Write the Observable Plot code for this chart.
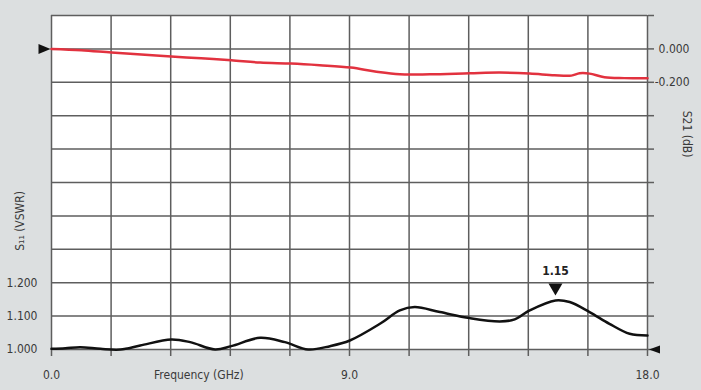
<!DOCTYPE html>
<html>
<head>
<meta charset="utf-8">
<script src="https://cdn.jsdelivr.net/npm/d3@7"></script>
<script src="https://cdn.jsdelivr.net/npm/@observablehq/plot@0.6"></script>
<style>
  html, body { margin: 0; padding: 0; background: #dcdfe0; }
</style>
</head>
<body>
<div id="chart"></div>
<script>
// S11 (VSWR) black curve
const s11Freq = [0, 0.42, 0.87, 1.48, 2.08, 2.68, 3.62, 4.19, 4.94, 5.43, 6.3, 7.05, 7.75, 8.41, 9.01, 9.92, 10.52, 10.97, 11.73, 12.63, 13.54, 13.99, 14.44, 15.22, 15.65, 16.25, 16.85, 17.46, 18];
const s11Vswr = [1.002, 1.004, 1.007, 1.002, 1.000, 1.012, 1.030, 1.022, 1.000, 1.010, 1.035, 1.022, 1.000, 1.010, 1.027, 1.077, 1.117, 1.127, 1.112, 1.094, 1.084, 1.090, 1.117, 1.147, 1.142, 1.112, 1.077, 1.047, 1.042];

// S21 (dB) red curve
const s21Freq = [0, 0.9, 1.81, 2.71, 3.62, 4.52, 5.43, 6.3, 7.24, 8.1, 9.04, 9.77, 10.52, 11.43, 12.63, 13.54, 14.44, 15.19, 15.7, 15.95, 16.25, 16.7, 17.3, 18];
const s21Db = [0.000, -0.008, -0.022, -0.034, -0.046, -0.056, -0.068, -0.082, -0.088, -0.098, -0.112, -0.135, -0.152, -0.152, -0.146, -0.142, -0.148, -0.158, -0.160, -0.146, -0.148, -0.170, -0.175, -0.176];

// Grid / tick values
const xGrid = [0, 1.8, 3.6, 5.4, 7.2, 9, 10.8, 12.6, 14.4, 16.2, 18];
const yGrid = [1.0, 1.1, 1.2, 1.3, 1.4, 1.5, 1.6, 1.7, 1.8, 1.9, 2.0];
const xLabelValues = [0, 9, 18];
const xLabelTexts = ["0.0", "9.0", "18.0"];
const yLeftLabelValues = [1.0, 1.1, 1.2];
const yLeftLabelTexts = ["1.000", "1.100", "1.200"];
const yRightLabelValues = [0, -0.2];
const yRightLabelTexts = ["0.000", "-0.200"];

// Annotation
const peakFreq = [15.22];
const peakValue = [1.147];
const peakText = ["1.15"];

// Right axis (dB) mapped onto the left (VSWR) scale
const s21Zero = 1.9;     // VSWR-scale position of 0 dB
const s21Factor = 0.5;   // VSWR units per dB
const toLeft = (db) => s21Zero + s21Factor * db;

const s11Data = s11Freq.map((f, i) => ({f, v: s11Vswr[i]}));
const s21Data = s21Freq.map((f, i) => ({f, v: toLeft(s21Db[i])}));
const peakData = peakFreq.map((f, i) => ({f, v: peakValue[i], t: peakText[i]}));

const gridColor = "#5e5e5e";
const font = "'Liberation Sans Narrow', 'DejaVu Sans Condensed', 'Liberation Sans', sans-serif";

const triRight = {draw(ctx) { ctx.moveTo(6, 0); ctx.lineTo(-6, -5); ctx.lineTo(-6, 5); ctx.closePath(); }};
const triLeft = {draw(ctx) { ctx.moveTo(-5.5, 0); ctx.lineTo(5.5, -4); ctx.lineTo(5.5, 4); ctx.closePath(); }};
const triDown = {draw(ctx) { ctx.moveTo(0, 6); ctx.lineTo(-7, -6); ctx.lineTo(7, -6); ctx.closePath(); }};

const chart = Plot.plot({
  width: 701,
  height: 390,
  marginLeft: 51,
  marginRight: 54,
  marginTop: 15,
  marginBottom: 41,
  x: {domain: [0, 18], axis: null},
  y: {domain: [1, 2], axis: null},
  style: {background: "#dcdfe0", fontFamily: font, fontSize: "12px", color: "#3a3a3a", overflow: "visible"},
  marks: [
    Plot.frame({fill: "white"}),
    Plot.ruleX(xGrid, {stroke: gridColor, strokeWidth: 1.5}),
    Plot.ruleY(yGrid, {stroke: gridColor, strokeWidth: 1.5}),
    Plot.axisX({ticks: xGrid, tickSize: 7, tickFormat: () => "", stroke: gridColor, strokeWidth: 1.5, label: null}),
    Plot.axisY({anchor: "right", ticks: yGrid, tickSize: 6, tickFormat: () => "", stroke: gridColor, strokeWidth: 1.5, label: null}),
    Plot.line(s21Data, {x: "f", y: "v", stroke: "#e2323f", strokeWidth: 2.5, curve: "catmull-rom"}),
    Plot.line(s11Data, {x: "f", y: "v", stroke: "#111", strokeWidth: 2.5, curve: "catmull-rom"}),
    // tick labels
    Plot.text(xLabelValues, {x: (d) => d, text: (d, i) => xLabelTexts[i], frameAnchor: "bottom", dy: 29, fill: "#3a3a3a"}),
    Plot.text(yLeftLabelValues, {y: (d) => d, text: (d, i) => yLeftLabelTexts[i], frameAnchor: "left", dx: -14, textAnchor: "end", fill: "#3a3a3a"}),
    Plot.text(yRightLabelValues, {y: (d) => toLeft(d), text: (d, i) => yRightLabelTexts[i], frameAnchor: "right", dx: 42, textAnchor: "end", fill: "#3a3a3a"}),
    // axis titles
    Plot.text(["Frequency (GHz)"], {x: 4.45, frameAnchor: "bottom", dy: 29, fill: "#3a3a3a"}),
    Plot.text(["S\u2081\u2081 (VSWR)"], {y: 1.385, frameAnchor: "left", dx: -31, rotate: -90, textAnchor: "middle", fill: "#3a3a3a"}),
    Plot.text(["S21 (dB)"], {y: 1.645, frameAnchor: "right", dx: 39, rotate: 90, textAnchor: "middle", fill: "#3a3a3a"}),
    // reference markers
    Plot.dot([0], {x: (d) => d, y: () => toLeft(0), symbol: triRight, fill: "#111", stroke: null, dx: -7}),
    Plot.dot([18], {x: (d) => d, y: () => 1.0, symbol: triLeft, fill: "#111", stroke: null, dx: 7}),
    // peak annotation
    Plot.dot(peakData, {x: "f", y: "v", symbol: triDown, fill: "#111", stroke: null, dy: -11}),
    Plot.text(peakData, {x: "f", y: "v", text: "t", dy: -29, fontWeight: "bold", fill: "#222"})
  ]
});
document.getElementById("chart").appendChild(chart);
</script>
</body>
</html>
